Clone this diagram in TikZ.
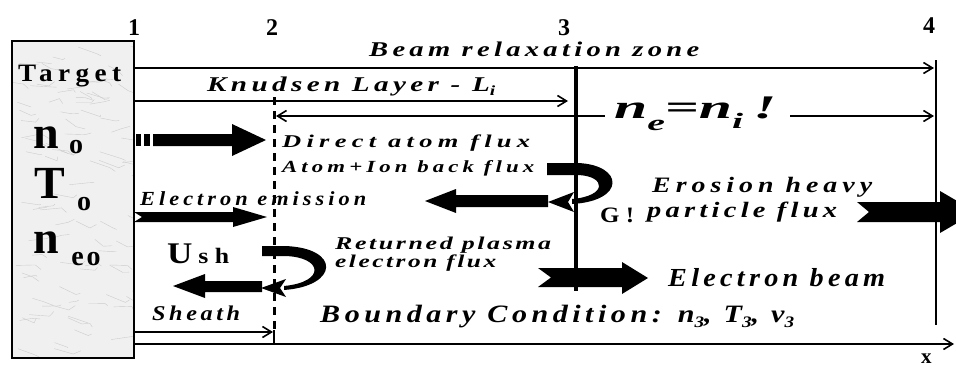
\documentclass[tikz,border=0pt]{standalone}
\usepackage{fontspec}
\usepackage{graphicx}
\setmainfont{Liberation Serif}
\usetikzlibrary{arrows.meta}
\newcommand{\fs}[1]{\fontsize{#1}{#1}\selectfont}
\newcommand{\lsp}[1]{\addfontfeatures{LetterSpace=#1}}
\newcommand{\sbi}[3]{\raisebox{-#1pt}{\fs{#2}#3}}
\newcommand{\fitw}[2]{\resizebox{#1pt}{\height}{#2}}
\begin{document}
\begin{tikzpicture}[x=1pt,y=-1pt,
  thinline/.style={line width=1.6pt},
  barb/.style={-{Straight Barb[length=9pt,width=11pt,line width=1.6pt]}},
  lab/.style={inner sep=0pt,anchor=base west},
  num/.style={inner sep=0pt,anchor=base,font=\fs{24}\bfseries},
  big/.style={inner sep=0pt,anchor=base,font=\fs{46}\bfseries},
  sub/.style={inner sep=0pt,anchor=base,font=\fs{28}\bfseries}]
\useasboundingbox (0,0) rectangle (956,367);
% target box
\begin{scope}
\clip (12,41) rectangle (134,358);
\fill[gray!12] (12,41) rectangle (134,358);
\pgfmathsetseed{7}
\foreach \i in {1,...,90}{
  \pgfmathsetmacro\xa{12+rnd*122}
  \pgfmathsetmacro\ya{41+rnd*317}
  \draw[gray!40,line width=0.4pt] (\xa,\ya) -- ++(8+rnd*14,-4+rnd*12) -- ++(rnd*10,rnd*10-5);
}
\end{scope}
\node[draw,line width=2pt,minimum width=122pt,minimum height=317pt,inner sep=0pt] (target) at (73,199.5) {};
\node[lab,font=\fs{25}\bfseries\lsp{20}] (tlab) at (18,81) {\fitw{103}{Target}};
\node[big] (n0) at (46,148) {n};
\node[sub] (n0s) at (76,153) {o};
\node[big] (T0) at (50,198) {T};
\node[sub] (T0s) at (84,210) {o};
\node[big] (ne0) at (46,253) {n};
\node[sub,font=\fs{28}\bfseries\lsp{10}] (ne0s) at (86,265) {eo};
% numbers
\node[num] (c1) at (134,35) {1};
\node[num] (c2) at (272,35) {2};
\node[num] (c3) at (564,35) {3};
\node[num] (c4) at (929,33) {4};
% coordinates
\coordinate (b1) at (134,68);  \coordinate (b4) at (934,68);
\coordinate (k1) at (134,101); \coordinate (k3) at (568,101);
\coordinate (l4t) at (936,60); \coordinate (l4b) at (936,325);
\coordinate (l3t) at (576,66); \coordinate (l3b) at (576,291);
\coordinate (l2t) at (274,97); \coordinate (l2b) at (274,344);
\coordinate (e2) at (276,116); \coordinate (e3) at (605,116);
\coordinate (e5) at (790,116); \coordinate (e4) at (934,116);
\coordinate (s1) at (134,332); \coordinate (s2) at (273,332);
\coordinate (x1) at (134,344); \coordinate (x2) at (954,344);
% long arrows
\draw[thinline,barb] (b1) -- (b4);
\draw[thinline,barb] (k1) -- (k3);
\draw[line width=2.2pt] (l4t) -- (l4b);
\draw[thinline,{Straight Barb[length=9pt,width=11pt,line width=1.6pt]}-] (e2) -- (e3);
\draw[thinline,barb] (e5) -- (e4);
\draw[thinline,barb] (s1) -- (s2);
\draw[thinline,barb] (x1) -- (x2);
\draw[line width=3pt,dash pattern=on 8pt off 6pt] (l2t) -- (274,330);
\draw[line width=2pt] (274,330) -- (l2b);
% fat arrows
\fill (153,134) -- (232,134) -- (232,124) -- (266,140) -- (232,156) -- (232,146) -- (153,146) -- cycle;
\fill (136,134) rectangle (141,146);
\fill (144,134) rectangle (150,146);
\fill (134,212) -- (233,212) -- (233,207) -- (267,217) -- (233,227) -- (233,222) -- (134,222) -- (142,217) -- cycle;
\fill (548,195) -- (456,195) -- (456,189) -- (425,201) -- (456,213) -- (456,207) -- (548,207) -- cycle;
\fill (547,163) -- (578,163) .. controls (624,165) and (626,201) .. (572,204) -- (572,199) .. controls (608,196) and (606,176) .. (578,175) -- (547,175) -- cycle;
\fill (548,202) -- (574,192) -- (568,202) -- (574,212) -- cycle;
\fill (262,246) -- (285,246) .. controls (341,248) and (339,286) .. (284,290) -- (284,286) .. controls (326,282) and (323,257) .. (285,256) -- (262,256) -- cycle;
\fill (261,288) -- (286,279) -- (280,288) -- (286,297) -- cycle;
\fill (262,281) -- (205,281) -- (205,274) -- (173,286) -- (205,298) -- (205,292) -- (262,292) -- cycle;
\fill (538,268) -- (622,268) -- (622,262) -- (648,278) -- (622,294) -- (622,287) -- (538,287) -- (551,277.5) -- cycle;
\fill (857,202) -- (940,202) -- (940,191) -- (976,212) -- (940,233) -- (940,222) -- (857,222) -- (869,212) -- cycle;
\draw[line width=4pt] (l3t) -- (l3b);
% texts
\node[lab,font=\fs{21}\bfseries\itshape\lsp{15}] (brz) at (369,56) {\fitw{330}{Beam relaxation zone}};
\node[lab,font=\fs{21}\bfseries\itshape\lsp{15}] (kl) at (207,91) {\fitw{288}{Knudsen Layer - L\sbi{4}{14}{i}}};
\node[lab,font=\fs{33}\bfseries\itshape] (neq) at (614,118) {\fitw{162}{n\raisebox{-12pt}{\fs{22}e}=n\raisebox{-10pt}{\fs{22}i}\,!}};
\node[lab,font=\fs{18}\bfseries\itshape\lsp{20}] (daf) at (282,147) {\fitw{248}{Direct atom flux}};
\node[lab,font=\fs{17}\bfseries\itshape\lsp{18}] (aib) at (282,172) {\fitw{252}{Atom+Ion back flux}};
\node[lab,font=\fs{20}\bfseries\itshape\lsp{18}] (eem) at (140,205) {\fitw{226}{Electron emission}};
\node[lab,font=\fs{22}\bfseries\itshape\lsp{18}] (ehv) at (652,192) {\fitw{220}{Erosion heavy}};
\node[lab,font=\fs{22}\bfseries\itshape\lsp{15}] (pfx) at (647,217) {\fitw{190}{particle flux}};
\node[lab,font=\fs{22}\bfseries] (g) at (600,222) {\fitw{34}{G !}};
\node[lab,font=\fs{18}\bfseries\itshape\lsp{10}] (rpl) at (335,249) {\fitw{216}{Returned plasma}};
\node[lab,font=\fs{18}\bfseries\itshape\lsp{10}] (efx) at (335,267) {\fitw{161}{electron flux}};
\node[lab,font=\fs{30}\bfseries] (ush) at (167,263) {\fitw{62}{U\hspace{5pt}{\fs{22}\lsp{25}sh}}};
\node[lab,font=\fs{26}\bfseries\itshape\lsp{15}] (ebm) at (668,286) {\fitw{217}{Electron beam}};
\node[lab,font=\fs{21}\bfseries\itshape\lsp{15}] (sht) at (152,320) {\fitw{88}{Sheath}};
\node[lab,font=\fs{25}\bfseries\itshape\lsp{15}] (bc) at (320,322) {\fitw{474}{Boundary Condition: n\sbi{5}{16}{3}, T\sbi{5}{16}{3}, v\sbi{5}{16}{3}}};
\node[lab,font=\fs{21}\bfseries] (xl) at (921,363) {x};
\end{tikzpicture}
\end{document}
